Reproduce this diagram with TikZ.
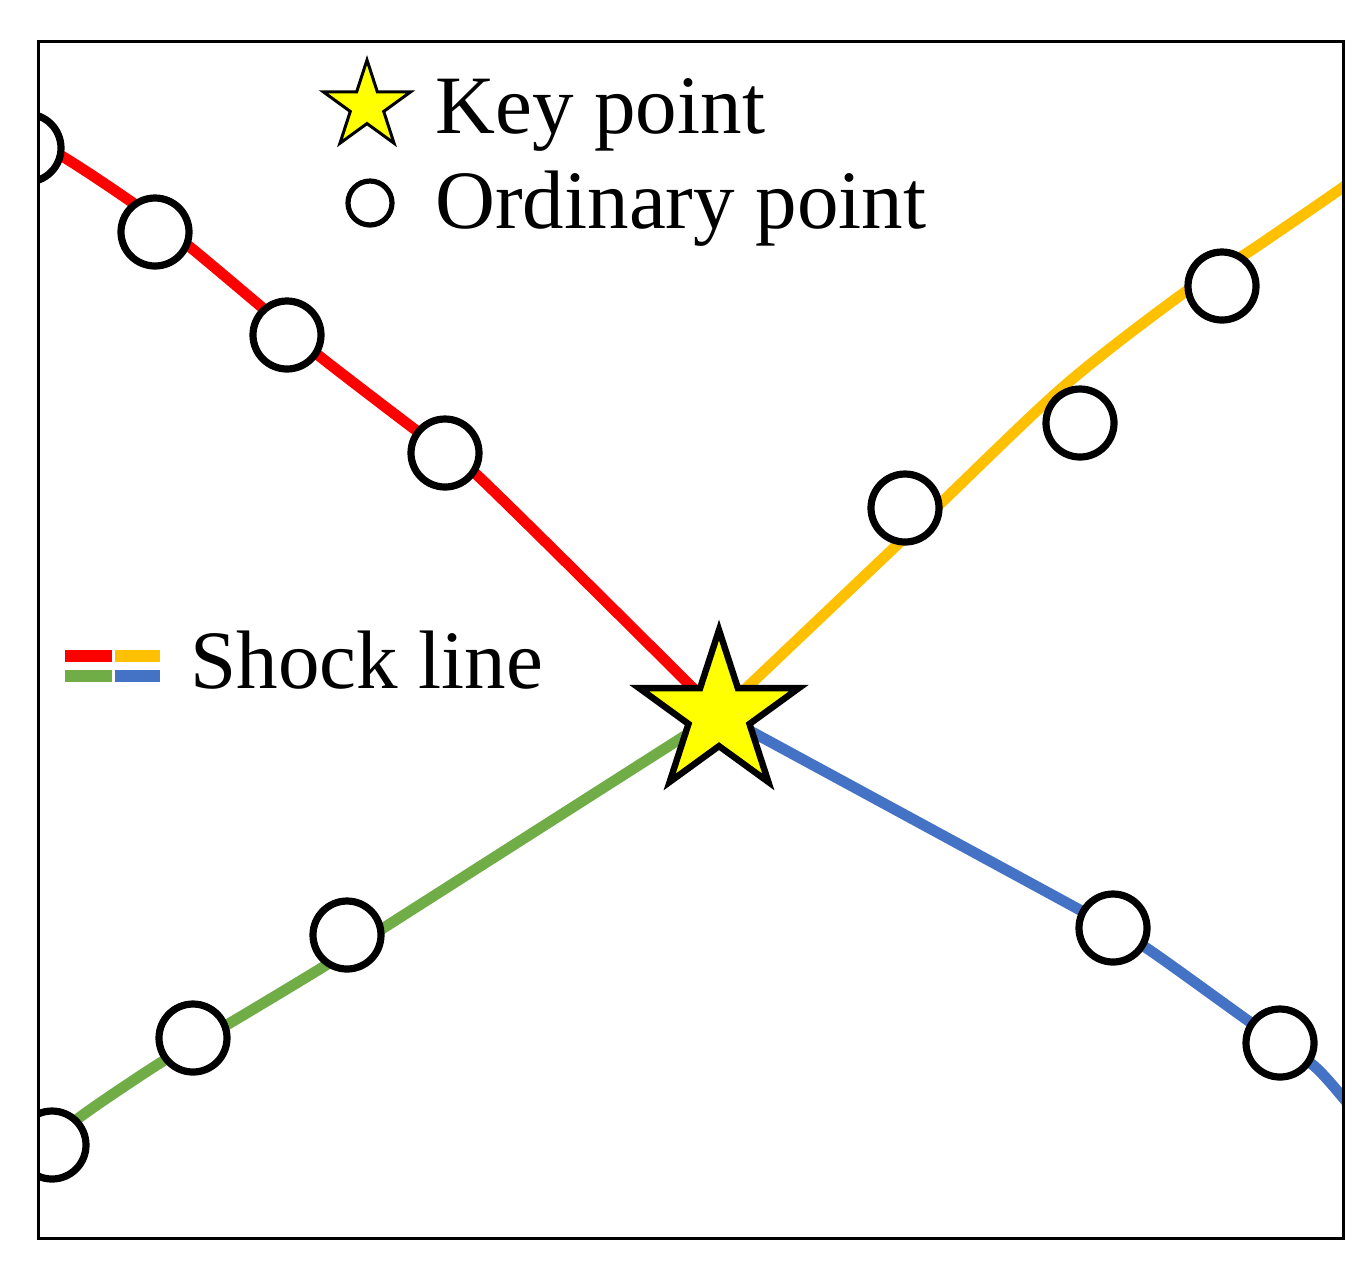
\documentclass[tikz,border=0pt]{standalone}
\usepackage{fontspec}
\setmainfont{Liberation Serif}
\usetikzlibrary{shapes.geometric}
\definecolor{cred}{HTML}{FF0000}
\definecolor{corange}{HTML}{FFC000}
\definecolor{cgreen}{HTML}{70AD47}
\definecolor{cblue}{HTML}{4472C4}
\definecolor{cyellow}{HTML}{FFFF00}
\begin{document}
\begin{tikzpicture}[x=0.5pt,y=-0.5pt,
  ordpt/.style={circle,draw=black,fill=white,line width=3.6pt,minimum size=34pt,inner sep=0pt},
  keypt/.style={star,star points=5,star point ratio=2.618,draw=black,fill=cyellow,line width=3.2pt,inner sep=0pt,minimum size=84pt},
  legstar/.style={star,star points=5,star point ratio=2.618,draw=black,fill=cyellow,line width=1.5pt,inner sep=0pt,minimum size=46pt},
  legcirc/.style={circle,draw=black,fill=white,line width=2.6pt,minimum size=22pt,inner sep=0pt},
  shock/.style={line width=5.4pt},
  lbl/.style={anchor=base west,inner sep=0pt,font=\fontsize{41.5pt}{48pt}\selectfont}]
\useasboundingbox (0,0) rectangle (1364,1266);
\fill[white] (0,0) rectangle (1364,1266);
\begin{scope}
  \clip (37,40) rectangle (1342,1237);
  \coordinate (K) at (719,714);
  % shock lines
  \draw[shock,cred] plot[smooth,tension=0.4] coordinates
    {(5,132) (60,155) (133,203) (190,247) (258,304) (318,355) (413,428) (477,475) (719,714)};
  \draw[shock,corange] plot[smooth,tension=0.5] coordinates
    {(719,714) (918,525) (1063,387) (1185,292) (1250,251) (1342,188) (1370,168)};
  \draw[shock,cgreen] plot[smooth,tension=0.4] coordinates
    {(20,1168) (80,1117) (160,1063) (230,1023) (323,967) (385,927) (719,714)};
  \draw[shock,cblue] plot[smooth,tension=0.4] coordinates
    {(719,714) (1080,910) (1145,947) (1250,1022) (1313,1065) (1345,1100) (1360,1120)};
  % ordinary points
  \foreach \n/\x/\y in {r0/27/148, r1/155/232, r2/287/335, r3/445/453,
                        o1/905/508, o2/1080/423, o3/1222/286,
                        g0/52/1145, g1/193/1038, g2/347/935,
                        b1/1113/928, b2/1280/1043}
    \node[ordpt] (\n) at (\x,\y) {};
  \node[keypt] (key) at (K) {};
\end{scope}
\node[draw=black,line width=1.5pt,minimum width=652.5pt,minimum height=598.5pt,inner sep=0pt,anchor=north west] (frame) at (37,40) {};
% legend
\node[legstar] (lstar) at (367,106) {};
\node[lbl] (tkey) at (435,133) {Key point};
\node[legcirc] (lcirc) at (370,203) {};
\node[lbl] (tord) at (435,228) {Ordinary point};
\fill[cred] (65,650) rectangle (112,662);
\fill[corange] (115,650) rectangle (160,662);
\fill[cgreen] (65,670) rectangle (112,682);
\fill[cblue] (115,670) rectangle (160,682);
\node[lbl] (tshock) at (190,688) {Shock line};
\end{tikzpicture}
\end{document}
